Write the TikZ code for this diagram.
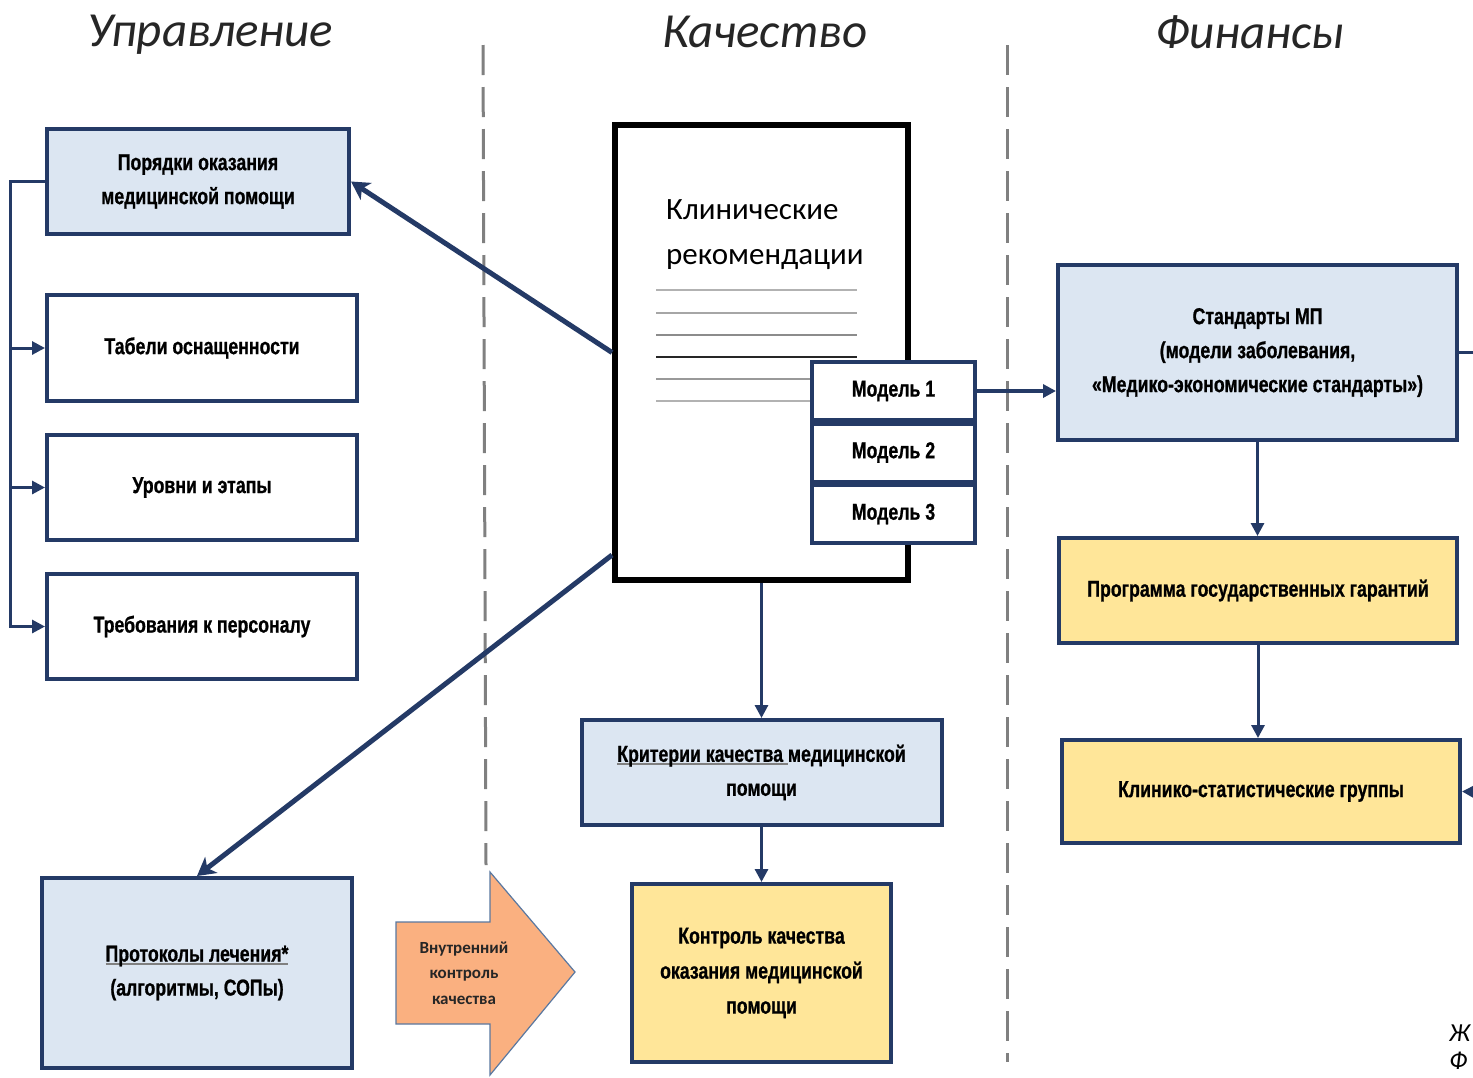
\documentclass[tikz,border=0pt]{standalone}
\usepackage{fontspec}
\setmainfont{Carlito}
\newfontfamily\nb[FakeStretch=0.77,FakeBold=0.8]{Liberation Sans Bold}
\newfontfamily\hdr{Carlito}
\usetikzlibrary{arrows.meta,calc}
\definecolor{navy}{RGB}{36,58,102}
\definecolor{lblue}{RGB}{220,230,242}
\definecolor{lyellow}{RGB}{255,230,153}
\definecolor{orangef}{RGB}{250,176,128}
\definecolor{arrbord}{RGB}{90,120,160}
\definecolor{dashgray}{RGB}{128,128,128}
\newcommand\grayul[1]{\setbox0\hbox{#1}\rlap{\color{gray}\rule[-3pt]{\wd0}{1.6pt}}\box0}
\tikzset{
  box/.style={draw=navy, line width=4pt, inner sep=2pt, align=center,
    font=\nb\fontsize{23}{34}\selectfont},
  bluebox/.style={box, fill=lblue},
  whitebox/.style={box, fill=white},
  yelbox/.style={box, fill=lyellow},
  conn/.style={draw=navy, line width=3pt},
  arr/.style={conn, -{Triangle[length=13pt,width=13pt]}},
  bigarr/.style={draw=navy, line width=5pt, -{Stealth[length=18pt,width=20pt,inset=5pt]}},
  sep/.style={draw=dashgray, line width=3pt, dash pattern=on 30pt off 12pt},
  header/.style={font=\hdr\itshape\fontsize{49}{60}\selectfont, text=black!85},
  docline/.style={line width=2pt}
}
\begin{document}
\begin{tikzpicture}[x=1pt,y=-1pt]
\useasboundingbox (0,0) rectangle (1473,1077);
\fill[white] (0,0) rectangle (1473,1077);

% headers
\node[header] (h1) at (210,35) {Управление};
\node[header] (h2) at (765,32) {Качество};
\node[header] (h3) at (1250,32) {Финансы};

% separators
\coordinate (s1a) at (483,45); \coordinate (s1b) at (486,865);
\coordinate (s2a) at (1007,45); \coordinate (s2b) at (1007,1062);
\draw[sep] (s1a) -- (s1b);
\draw[sep] (s2a) -- (s2b);

% left column
\node[bluebox, minimum width=302pt, minimum height=105pt] (por) at (198,181.5) {Порядки оказания\\медицинской помощи};
\node[whitebox, minimum width=310pt, minimum height=106pt] (tab) at (202,348) {Табели оснащенности};
\node[whitebox, minimum width=310pt, minimum height=105pt] (ur) at (202,487.5) {Уровни и этапы};
\node[whitebox, minimum width=310pt, minimum height=105pt] (treb) at (202,626.5) {Требования к персоналу};
\node[bluebox, minimum width=310pt, minimum height=190pt] (prot) at (197,973) {\grayul{Протоколы лечения*}\\(алгоритмы, СОПы)};

\coordinate (bus) at (10,626.5);
\draw[arr] (por.west) -| (bus) -- (treb.west);
\draw[arr] (bus |- tab.west) -- (tab.west);
\draw[arr] (bus |- ur.west) -- (ur.west);

% document
\node[draw=black, line width=6pt, fill=white, minimum width=293pt, minimum height=455pt] (doc) at (761.5,352.5) {};
\node[anchor=north west, align=left, font=\fontsize{31}{45}\selectfont, inner sep=0pt] (crtext) at (666,199) {Клинические\\рекомендации};
\draw[docline, black!30] (656,290) -- (857,290);
\draw[docline, black!35] (656,313) -- (857,313);
\draw[docline, black!45] (656,335) -- (857,335);
\draw[docline, black!85] (656,357) -- (857,357);
\draw[docline, black!40] (656,379) -- (840,379);
\draw[docline, black!30] (656,401) -- (840,401);

\node[whitebox, minimum width=163pt, minimum height=58pt] (m1) at (893.5,391) {Модель 1};
\node[whitebox, minimum width=163pt, minimum height=58pt] (m2) at (893.5,452.5) {Модель 2};
\node[whitebox, minimum width=163pt, minimum height=58pt] (m3) at (893.5,514) {Модель 3};

% center column
\node[bluebox, minimum width=360pt, minimum height=105pt] (krit) at (761.5,772.5) {\grayul{Критерии качества }медицинской\\помощи};
\node[yelbox, minimum width=259pt, minimum height=178pt, font=\nb\fontsize{23}{35}\selectfont] (kon) at (761.5,973) {Контроль качества\\оказания медицинской\\помощи};

% orange arrow
\draw[fill=orangef, draw=arrbord, line width=1.2pt] (396,922) -- (490,922) -- (490,872) -- (575,972) -- (490,1075) -- (490,1024) -- (396,1024) -- cycle;
\node[align=center, font=\bfseries\fontsize{17}{25.5}\selectfont, text=black!85] (vkk) at (464,973) {Внутренний\\контроль\\качества};

% right column
\node[bluebox, minimum width=399pt, minimum height=175pt] (std) at (1257.5,352.5) {Стандарты МП\\(модели заболевания,\\«Медико-экономические стандарты»)};
\node[yelbox, minimum width=398pt, minimum height=105pt] (prog) at (1258,590.5) {Программа государственных гарантий};
\node[yelbox, minimum width=398pt, minimum height=103pt] (klin) at (1261,791.5) {Клинико-статистические группы};

% connectors
\draw[bigarr] (doc.west) -- (por.east);
\draw[bigarr] ($(doc.south west)+(0,-28)$) -- (prot.north);
\draw[arr, line width=3.5pt] (m1.east) -- (m1.east -| std.west);
\draw[arr] (doc.south) -- (krit.north);
\draw[arr] (krit.south) -- (kon.north);
\draw[arr] (std.south) -- (std.south |- prog.north);
\draw[arr] (prog.south) -- (prog.south |- klin.north);
\coordinate (rout) at (1480,352.5);
\draw[conn] (std.east) -- (rout);
\coordinate (rin) at (1485,792);
\draw[arr] (rin) -- (klin.east);

% cut-off text at bottom right
\node[anchor=west, font=\itshape\fontsize{26}{32}\selectfont, inner sep=0pt] (zh) at (1449,1033) {Ж};
\node[anchor=west, font=\itshape\fontsize{26}{32}\selectfont, inner sep=0pt] (ef) at (1449,1061) {Ф};
\end{tikzpicture}
\end{document}
